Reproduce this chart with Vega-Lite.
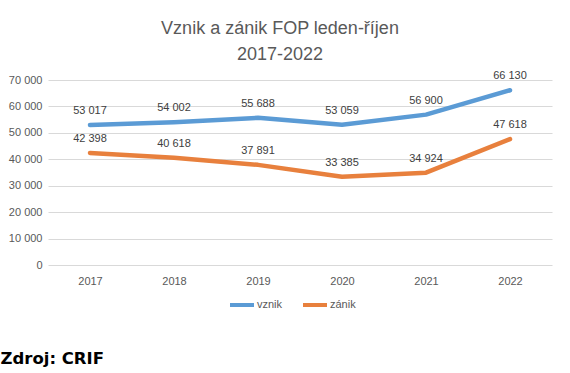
{
  "$schema": "https://vega.github.io/schema/vega-lite/v6.json",
  "width": 504,
  "height": 185,
  "autosize": {"type": "none"},
  "padding": {"left": 48, "top": 80, "right": 18, "bottom": 108},
  "background": "white",
  "config": {
    "locale": {"number": {"decimal": ",", "thousands": "\u00a0", "grouping": [3], "currency": ["", " Kč"]}},
    "view": {"stroke": null},
    "font": "Liberation Sans"
  },
  "title": {
    "text": ["Vznik a zánik FOP leden-říjen", "2017-2022"],
    "frame": "group",
    "anchor": "middle",
    "dx": -20,
    "font": "Liberation Sans",
    "fontSize": 18,
    "fontWeight": "normal",
    "color": "#595959",
    "lineHeight": 26,
    "offset": 6
  },
  "data": {
    "values": [
      {"rok": "2017", "typ": "vznik", "pocet": 53017},
      {"rok": "2018", "typ": "vznik", "pocet": 54002},
      {"rok": "2019", "typ": "vznik", "pocet": 55688},
      {"rok": "2020", "typ": "vznik", "pocet": 53059},
      {"rok": "2021", "typ": "vznik", "pocet": 56900},
      {"rok": "2022", "typ": "vznik", "pocet": 66130},
      {"rok": "2017", "typ": "zánik", "pocet": 42398},
      {"rok": "2018", "typ": "zánik", "pocet": 40618},
      {"rok": "2019", "typ": "zánik", "pocet": 37891},
      {"rok": "2020", "typ": "zánik", "pocet": 33385},
      {"rok": "2021", "typ": "zánik", "pocet": 34924},
      {"rok": "2022", "typ": "zánik", "pocet": 47618}
    ]
  },
  "encoding": {
    "x": {
      "field": "rok",
      "type": "ordinal",
      "scale": {"type": "point", "padding": 0.5},
      "axis": {
        "title": "Zdroj: CRIF",
        "titleX": -48,
        "titleY": 98,
        "titleAlign": "left",
        "titleBaseline": "alphabetic",
        "titleFont": "DejaVu Sans",
        "titleFontWeight": "bold",
        "titleFontSize": 16.5,
        "titleColor": "#000000",
        "labelAngle": 0,
        "labelFontSize": 11,
        "labelColor": "#595959",
        "labelPadding": 10,
        "ticks": false,
        "domain": false,
        "grid": false
      }
    },
    "y": {
      "field": "pocet",
      "type": "quantitative",
      "scale": {"domain": [0, 70000], "nice": false},
      "axis": {
        "title": null,
        "values": [0, 10000, 20000, 30000, 40000, 50000, 60000, 70000],
        "format": ",d",
        "labelFontSize": 11,
        "labelColor": "#595959",
        "labelPadding": 6,
        "ticks": false,
        "domain": false,
        "grid": true,
        "gridColor": "#d9d9d9",
        "gridWidth": 1
      }
    },
    "color": {
      "field": "typ",
      "type": "nominal",
      "scale": {"domain": ["vznik", "zánik"], "range": ["#5b9bd5", "#e8803d"]},
      "legend": {
        "title": null,
        "orient": "none",
        "direction": "horizontal",
        "legendX": 180,
        "legendY": 211,
        "symbolType": "stroke",
        "symbolStrokeWidth": 4,
        "symbolSize": 576,
        "labelFontSize": 11,
        "labelColor": "#595959",
        "labelOffset": 1,
        "columnPadding": 12
      }
    }
  },
  "layer": [
    {
      "mark": {"type": "line", "strokeWidth": 4.5, "strokeCap": "round", "strokeJoin": "round"}
    },
    {
      "mark": {"type": "text", "dy": -14, "fontSize": 11, "color": "#404040", "fill": "#404040"},
      "encoding": {
        "text": {"field": "pocet", "type": "quantitative", "format": ",d"},
        "color": {"value": "#404040"}
      }
    }
  ]
}
